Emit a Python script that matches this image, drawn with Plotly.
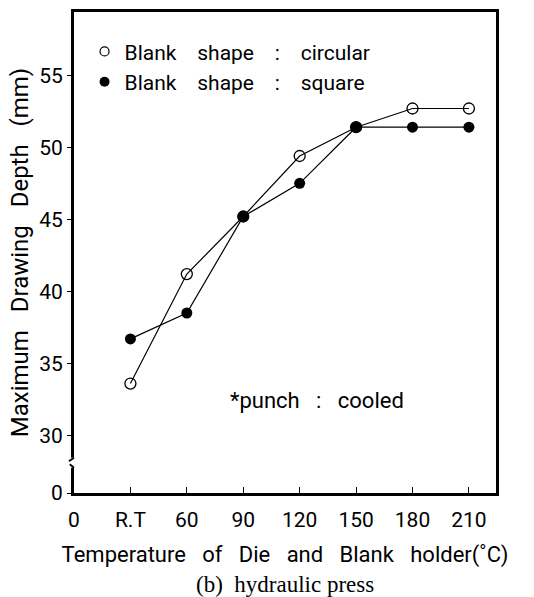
import plotly.graph_objects as go

# ---- data ----
x_ticks = ["0", "R.T", "60", "90", "120", "150", "180", "210"]
temps = ["R.T", "60", "90", "120", "150", "180", "210"]
depth_circular = [33.6, 41.2, 45.2, 49.4, 51.4, 52.7, 52.7]
depth_square = [36.7, 38.5, 45.2, 47.5, 51.4, 51.4, 51.4]
y_tickvals = [26, 30, 35, 40, 45, 50, 55]
y_ticktext = ["0", "30", "35", "40", "45", "50", "55"]

NB = "\u00a0"
def sp(s, n=2):
    return s.replace(" ", NB * n)

FONT = "Roboto"
FS = 21

fig = go.Figure()

# data lines
fig.add_trace(go.Scatter(x=temps, y=depth_circular, mode="lines+markers",
                         line=dict(color="black", width=1.2),
                         marker=dict(symbol="circle-open", size=11, color="black",
                                     line=dict(width=1.3, color="black")),
                         showlegend=False))
fig.add_trace(go.Scatter(x=temps, y=depth_square, mode="lines+markers",
                         line=dict(color="black", width=1.2),
                         marker=dict(symbol="circle", size=11, color="black"),
                         showlegend=False))
# legend entries (markers only)
fig.add_trace(go.Scatter(x=[None], y=[None], mode="markers", legendgroup="a",
                         name=sp("Blank shape : circular", 4),
                         marker=dict(symbol="circle-open", size=9, color="black",
                                     line=dict(width=1.2, color="black"))))
fig.add_trace(go.Scatter(x=[None], y=[None], mode="markers", legendgroup="b",
                         name=sp("Blank shape : square", 4),
                         marker=dict(symbol="circle", size=10, color="black")))

fig.add_annotation(x=4.3, y=32.45, xref="x", yref="y", text=sp("*punch : cooled", 3),
                   showarrow=False, font=dict(family=FONT, size=22, color="black"))

# caption
fig.add_annotation(x=0.5, y=-0.19, xref="paper", yref="paper", xanchor="center", yanchor="middle",
                   text="(b)" + NB*2 + "hydraulic press", showarrow=False,
                   font=dict(family="Liberation Serif", size=23, color="black"))

# axis break marker on y axis
fig.add_shape(type="rect", xref="paper", yref="y", x0=-0.012, x1=0.012, y0=27.75, y1=28.45,
              fillcolor="white", line=dict(width=0), layer="above")
fig.add_shape(type="line", xref="paper", yref="y", x0=0, x1=-0.012, y0=28.45, y1=28.2,
              line=dict(color="black", width=1.8), layer="above")
fig.add_shape(type="line", xref="paper", yref="y", x0=0, x1=-0.01, y0=27.75, y1=28.0,
              line=dict(color="black", width=1.8), layer="above")

fig.update_layout(
    width=534, height=597,
    margin=dict(l=74, r=38, t=9, b=104),
    paper_bgcolor="white", plot_bgcolor="white",
    font=dict(family=FONT, size=FS, color="black"),
    showlegend=True,
    legend=dict(x=0.025, y=0.96, xanchor="left", yanchor="top",
                bgcolor="rgba(0,0,0,0)", font=dict(family=FONT, size=FS),
                tracegroupgap=0, traceorder="grouped"),
    xaxis=dict(type="category", categoryorder="array", categoryarray=x_ticks,
               tickvals=x_ticks, range=[0, 7.48],
               showline=True, linecolor="black", linewidth=3, mirror=True,
               showgrid=False, zeroline=False,
               ticks="inside", ticklen=6, tickwidth=1.2, tickcolor="black",
               ticklabelstandoff=6,
               title=dict(text=sp("Temperature of Die and Blank holder(˚C)", 3), standoff=16,
                          font=dict(family=FONT, size=22))),
    yaxis=dict(range=[26, 59.4], tickvals=y_tickvals, ticktext=y_ticktext,
               showline=True, linecolor="black", linewidth=3, mirror=True,
               showgrid=False, zeroline=False,
               ticks="outside", ticklen=4, tickwidth=1.2, tickcolor="black",
               title=dict(text=sp("Maximum Drawing Depth (mm)", 3), standoff=4,
                          font=dict(family=FONT, size=24))),
)

fig.write_html("out.html")
